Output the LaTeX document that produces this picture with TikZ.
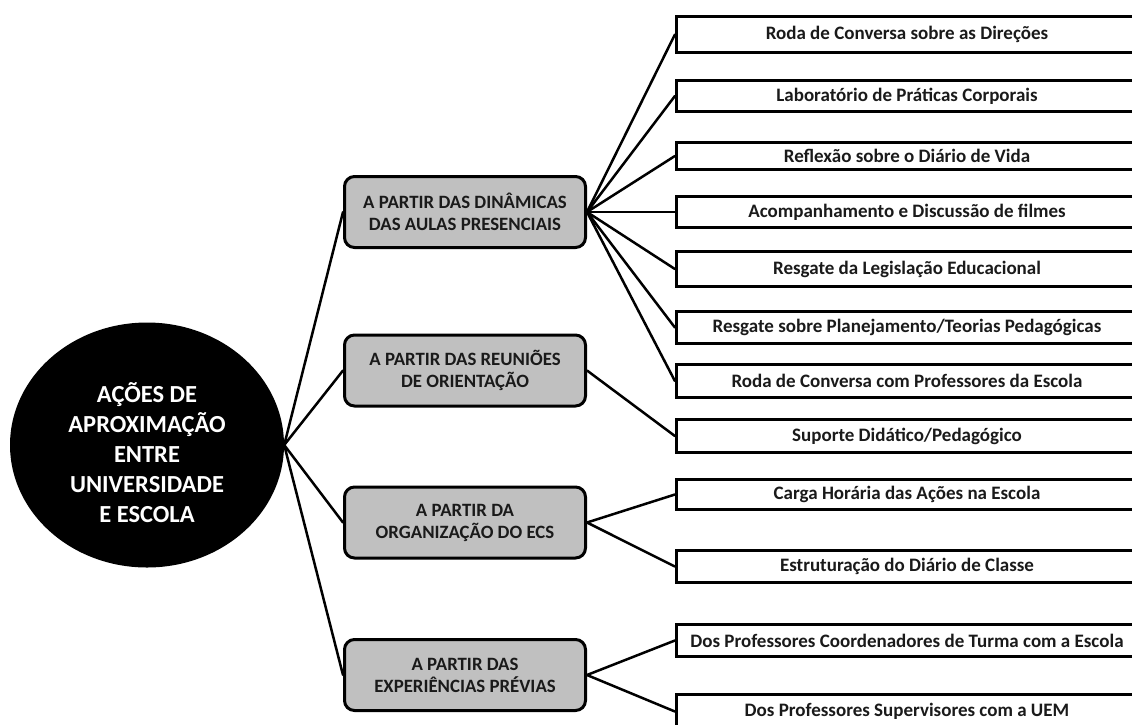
\documentclass[tikz,border=0pt]{standalone}
\usepackage{fontspec}
\setmainfont{Carlito}
\usetikzlibrary{shapes.geometric}

\definecolor{themegray}{HTML}{C0C0C0}
\definecolor{textgray}{HTML}{1A1A1A}

\tikzset{
  hub/.style={ellipse, fill=black, minimum width=274pt, minimum height=245pt,
    inner sep=0pt},
  hubtext/.style={text=white, align=center, inner sep=0pt,
    font=\bfseries\fontsize{24.5}{30}\selectfont},
  theme/.style={draw=black, line width=3pt, fill=themegray, rounded corners=10pt,
    minimum width=241pt, minimum height=71pt, inner sep=2pt, align=center,
    text=textgray, font=\bfseries\fontsize{18.8}{22}\selectfont},
  action/.style={draw=black, line width=3.2pt, fill=white, minimum width=461pt,
    inner sep=1pt, text=textgray, font=\bfseries\fontsize{19}{22}\selectfont},
  link/.style={line width=2.5pt, line cap=round}
}

\begin{document}
\begin{tikzpicture}[x=1pt,y=-1pt]
\useasboundingbox (0,0) rectangle (1132,724);
\clip (0,0) rectangle (1132,724);

% central circle and its title
\node[hub] (hub) at (147,445) {};
\node[hubtext] (hubt) at ([yshift=-8pt]hub.center)
  {AÇÕES DE\\APROXIMAÇÃO\\ENTRE\\UNIVERSIDADE\\E ESCOLA};

% four themes
\node[theme] (t1) at (465,212)   {A PARTIR DAS DINÂMICAS\\DAS AULAS PRESENCIAIS};
\node[theme] (t2) at (465,370.5) {A PARTIR DAS REUNIÕES\\DE ORIENTAÇÃO};
\node[theme] (t3) at (465,522.5) {A PARTIR DA\\ORGANIZAÇÃO DO ECS};
\node[theme] (t4) at (465,675)   {A PARTIR DAS\\EXPERIÊNCIAS PRÉVIAS};

% actions
\node[action, minimum height=36pt] (a1)  at (907,34.5)  {Roda de Conversa sobre as Direções};
\node[action, minimum height=31pt] (a2)  at (907,96)    {Laboratório de Práticas Corporais};
\node[action, minimum height=27pt] (a3)  at (907,156)   {Reflexão sobre o Diário de Vida};
\node[action, minimum height=31pt] (a4)  at (907,212)   {Acompanhamento e Discussão de filmes};
\node[action, minimum height=35pt] (a5)  at (907,269)   {Resgate da Legislação Educacional};
\node[action, minimum height=32pt] (a6)  at (907,327.5) {Resgate sobre Planejamento/Teorias Pedagógicas};
\node[action, minimum height=33pt] (a7)  at (907,381)   {Roda de Conversa com Professores da Escola};
\node[action, minimum height=33pt] (a8)  at (907,436)   {Suporte Didático/Pedagógico};
\node[action, minimum height=30pt] (a9)  at (907,494.5) {Carga Horária das Ações na Escola};
\node[action, minimum height=32pt] (a10) at (907,566.5) {Estruturação do Diário de Classe};
\node[action, minimum height=32pt] (a11) at (907,640.5) {Dos Professores Coordenadores de Turma com a Escola};
\node[action, minimum height=34pt] (a12) at (907,711.5) {Dos Professores Supervisores com a UEM};

% connectors
\foreach \t in {t1,t2,t3,t4}
  \draw[link] (hub.east) -- (\t.west);
\foreach \a in {a1,a2,a3,a4,a5,a6,a7}
  \draw[link] (t1.east) -- (\a.west);
\draw[link] (t2.east) -- (a8.west);
\draw[link] (t3.east) -- (a9.west);
\draw[link] (t3.east) -- (a10.west);
\draw[link] (t4.east) -- (a11.west);
\draw[link] (t4.east) -- (a12.west);
\end{tikzpicture}
\end{document}
